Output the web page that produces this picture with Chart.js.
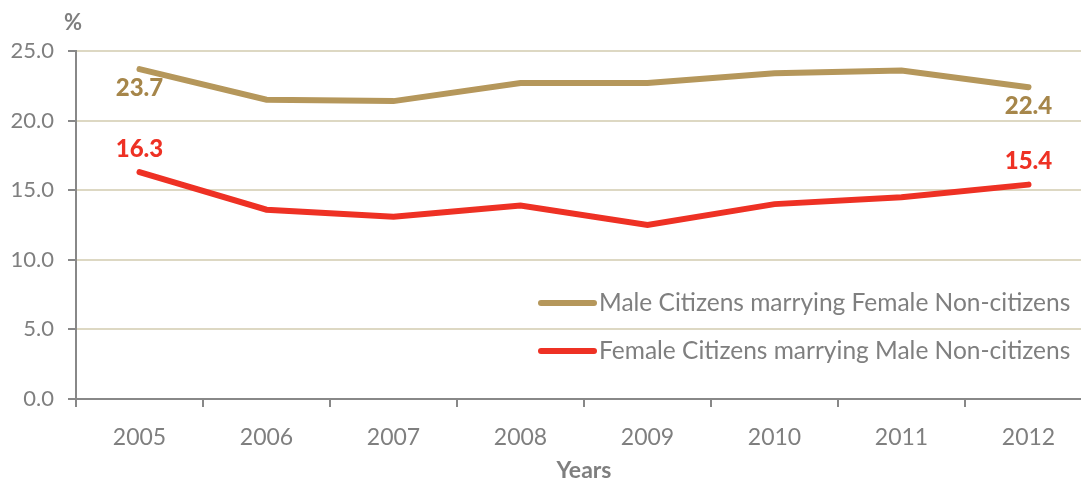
<!DOCTYPE html>
<html>
<head>
<meta charset="utf-8">
<script src="https://cdn.jsdelivr.net/npm/chart.js@4/dist/chart.umd.min.js"></script>
<style>
  html, body { margin: 0; padding: 0; background: #fff; overflow: hidden; }
  #wrap { width: 1093px; height: 481px; position: relative; }
</style>
</head>
<body>
<div id="wrap"><canvas id="chart"></canvas></div>
<script>
const years = ['2005', '2006', '2007', '2008', '2009', '2010', '2011', '2012'];
const maleCitizens = [23.7, 21.5, 21.4, 22.7, 22.7, 23.4, 23.6, 22.4];
const femaleCitizens = [16.3, 13.6, 13.1, 13.9, 12.5, 14.0, 14.5, 15.4];
const seriesNames = [
    'Male Citizens marrying Female Non-citizens',
    'Female Citizens marrying Male Non-citizens'
];

const gold = '#b5975b';
const goldText = '#a6864a';
const red = '#ee3124';
const grey = '#7f7f7f';
const font = 'Lato, "Open Sans", sans-serif';

// labels on first and last points + legend inside plot + % unit
const extras = {
    id: 'extras',
    afterDatasetsDraw(chart) {
        const ctx = chart.ctx;
        const area = chart.chartArea;
        ctx.save();
        ctx.font = '900 24px ' + font;
        ctx.textAlign = 'center';
        chart.data.datasets.forEach((ds, i) => {
            const meta = chart.getDatasetMeta(i);
            [0, ds.data.length - 1].forEach(j => {
                const p = meta.data[j];
                ctx.fillStyle = i === 0 ? goldText : red;
                if (i === 0) {
                    ctx.textBaseline = 'top';
                    ctx.fillText(ds.data[j].toFixed(1), p.x, p.y + 7);
                } else {
                    ctx.textBaseline = 'bottom';
                    ctx.fillText(ds.data[j].toFixed(1), p.x, p.y - 11);
                }
            });
        });

        // legend
        ctx.font = '24.5px ' + font;
        ctx.textAlign = 'left';
        ctx.textBaseline = 'middle';
        const rows = [area.bottom - 96, area.bottom - 48];
        chart.data.datasets.forEach((ds, i) => {
            const y = rows[i];
            ctx.strokeStyle = ds.borderColor;
            ctx.lineWidth = 6;
            ctx.lineCap = 'round';
            ctx.beginPath();
            ctx.moveTo(541, y);
            ctx.lineTo(594, y);
            ctx.stroke();
            ctx.fillStyle = grey;
            ctx.fillText(ds.label, 599, y);
        });

        ctx.font = 'bold 22px ' + font;
        ctx.textAlign = 'left';
        ctx.textBaseline = 'middle';
        ctx.fillStyle = grey;
        ctx.fillText('%', 64, 23);
        ctx.restore();
    }
};

new Chart(document.getElementById('chart'), {
    type: 'line',
    data: {
        labels: years,
        datasets: [
            {
                label: seriesNames[0],
                data: maleCitizens,
                borderColor: gold,
                backgroundColor: gold,
                borderWidth: 6,
                borderCapStyle: 'round',
                pointRadius: 0,
                tension: 0
            },
            {
                label: seriesNames[1],
                data: femaleCitizens,
                borderColor: red,
                backgroundColor: red,
                borderWidth: 6,
                borderCapStyle: 'round',
                pointRadius: 0,
                tension: 0
            }
        ]
    },
    options: {
        responsive: true,
        maintainAspectRatio: false,
        animation: false,
        layout: { padding: { top: 51, right: 1, left: 0, bottom: 0 } },
        plugins: {
            legend: { display: false },
            tooltip: { enabled: false }
        },
        scales: {
            x: {
                offset: true,
                grid: {
                    offset: true,
                    drawOnChartArea: false,
                    tickColor: '#888888',
                    tickLength: 8,
                    lineWidth: 2
                },
                border: { color: '#888888', width: 2 },
                ticks: { color: grey, font: { family: font, size: 23 }, padding: 17 },
                title: {
                    display: true,
                    text: 'Years',
                    color: grey,
                    font: { family: font, size: 23, weight: 'bold' },
                    padding: { top: 6, bottom: -3 }
                },
                afterFit(scale) { scale.height = 82; }
            },
            y: {
                min: 0,
                max: 25,
                ticks: {
                    stepSize: 5,
                    color: grey,
                    font: { family: font, size: 22 },
                    padding: 14,
                    callback: v => v.toFixed(1)
                },
                grid: {
                    color: '#ddd8c3',
                    lineWidth: 2,
                    tickColor: '#888888',
                    tickLength: 8
                },
                border: { color: '#888888', width: 2 },
                afterFit(scale) { scale.width = 76; }
            }
        }
    },
    plugins: [extras]
});
</script>
</body>
</html>
